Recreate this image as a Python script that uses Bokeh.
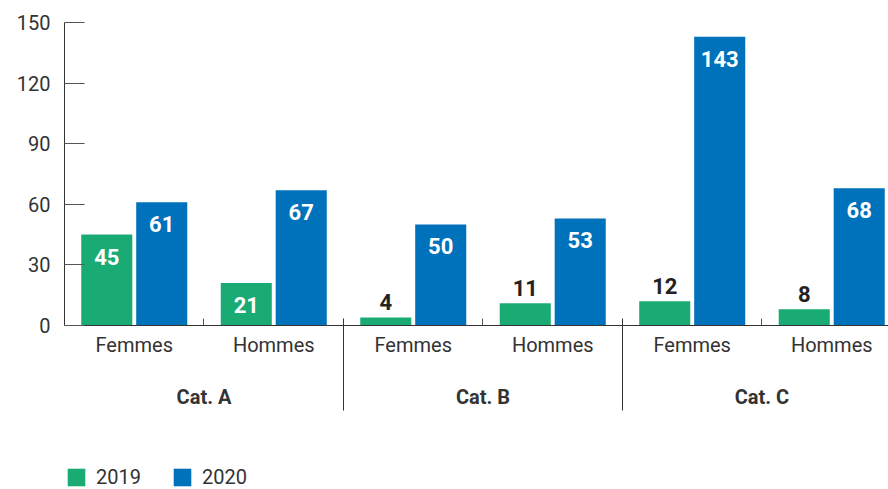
import numpy as np
from bokeh.plotting import figure
from bokeh.core.properties import value
from bokeh.models import (ColumnDataSource, Range1d, LinearAxis, FixedTicker,
                          Legend, LegendItem)
from bokeh.transform import dodge
from bokeh.embed import file_html
from bokeh.resources import INLINE

groups = ["Cat. A", "Cat. B", "Cat. C"]
genders = ["Femmes", "Hommes"]
series = ["2019", "2020"]
v2019 = [45, 21, 4, 11, 12, 8]
v2020 = [61, 67, 50, 53, 143, 68]
y_ticks = [0, 30, 60, 90, 120, 150]

GREEN = "#1aab74"
BLUE = "#0071bb"
TXT = "#333333"
FONT = "Roboto"

n = len(groups) * len(genders)
xc = np.arange(n) + 0.5
sub_labels = [g for _ in groups for g in genders]

src = ColumnDataSource(dict(x=xc, v19=v2019, v20=v2020))

# frame spans down to the bottom of the page; the value axis only covers 0..150
p = figure(width=888, height=489, output_backend="svg", toolbar_location=None,
           x_range=Range1d(0, 5.907), y_range=Range1d(-81.2, 150),
           x_axis_type=None, y_axis_type=None,
           min_border_left=64, min_border_right=0, min_border_top=22,
           min_border_bottom=0)
p.outline_line_color = None
p.xgrid.visible = False
p.ygrid.visible = False

bw = 0.366
off = 0.197
r19 = p.vbar(x=dodge("x", -off), top="v19", width=bw, source=src,
             fill_color=GREEN, line_color=None)
r20 = p.vbar(x=dodge("x", off), top="v20", width=bw, source=src,
             fill_color=BLUE, line_color=None)

# value labels: inside (white) for tall bars, above (dark) for short ones
thr = 20
for vals, dx in ((v2019, -off), (v2020, off)):
    ins = [i for i, v in enumerate(vals) if v >= thr]
    outs = [i for i, v in enumerate(vals) if v < thr]
    s_in = ColumnDataSource(dict(x=xc[ins] + dx, y=[vals[i] for i in ins],
                                 t=[str(vals[i]) for i in ins]))
    s_out = ColumnDataSource(dict(x=xc[outs] + dx, y=[vals[i] for i in outs],
                                  t=[str(vals[i]) for i in outs]))
    p.text(x="x", y="y", text="t", source=s_in, text_align="center",
           text_baseline="middle", y_offset=22, text_color="white",
           text_font_size="22px", text_font_style="bold",
           text_font=value(FONT))
    p.text(x="x", y="y", text="t", source=s_out, text_align="center",
           text_baseline="middle", y_offset=-15, text_color="#222222",
           text_font_size="22px", text_font_style="bold",
           text_font=value(FONT))

# y axis (limited to 0..150)
yax = LinearAxis(ticker=FixedTicker(ticks=y_ticks, minor_ticks=[]))
yax.bounds = (y_ticks[0], y_ticks[-1])
yax.major_tick_in = 20
yax.major_tick_out = 0
yax.minor_tick_in = 0
yax.minor_tick_out = 0
yax.axis_line_color = TXT
yax.major_tick_line_color = "#555555"
yax.major_label_standoff = 14
yax.major_label_text_font = FONT
yax.major_label_text_font_size = "20px"
yax.major_label_text_color = TXT
p.add_layout(yax, "left")

# x axis 1: Femmes / Hommes, drawn at y = 0
xax = LinearAxis(ticker=FixedTicker(ticks=list(xc),
                                    minor_ticks=[1.0, 3.0, 5.0]))
xax.fixed_location = 0
xax.major_label_overrides = {float(x): s for x, s in zip(xc, sub_labels)}
xax.major_tick_in = 0
xax.major_tick_out = 0
xax.minor_tick_in = 7
xax.minor_tick_out = 0
xax.axis_line_color = TXT
xax.minor_tick_line_color = "#555555"
xax.major_label_standoff = 8
xax.major_label_text_font = FONT
xax.major_label_text_font_size = "20px"
xax.major_label_text_color = TXT
p.add_layout(xax, "below")

# x axis 2: categories with long separators, also anchored at y = 0
gx = [1.0, 3.0, 5.0]
cax = LinearAxis(ticker=FixedTicker(ticks=gx, minor_ticks=[2.0, 4.0]))
cax.fixed_location = 0
cax.major_label_overrides = {x: g for x, g in zip(gx, groups)}
cax.axis_line_color = None
cax.major_tick_in = 0
cax.major_tick_out = 0
cax.minor_tick_in = 7
cax.minor_tick_out = 85
cax.minor_tick_line_color = TXT
cax.major_label_standoff = -25
cax.major_label_text_font = FONT
cax.major_label_text_font_size = "20px"
cax.major_label_text_font_style = "bold"
cax.major_label_text_color = TXT
p.add_layout(cax, "below")

legend = Legend(items=[LegendItem(label=series[0], renderers=[r19]),
                       LegendItem(label=series[1], renderers=[r20])],
                orientation="horizontal", location=(1, 0),
                glyph_width=22, glyph_height=22, label_standoff=9,
                spacing=30, padding=0, margin=0,
                label_text_font=FONT, label_text_font_size="20px",
                label_text_color=TXT, border_line_color=None,
                background_fill_alpha=0)
p.add_layout(legend, "center")

open("out.html", "w").write(file_html(p, INLINE))
